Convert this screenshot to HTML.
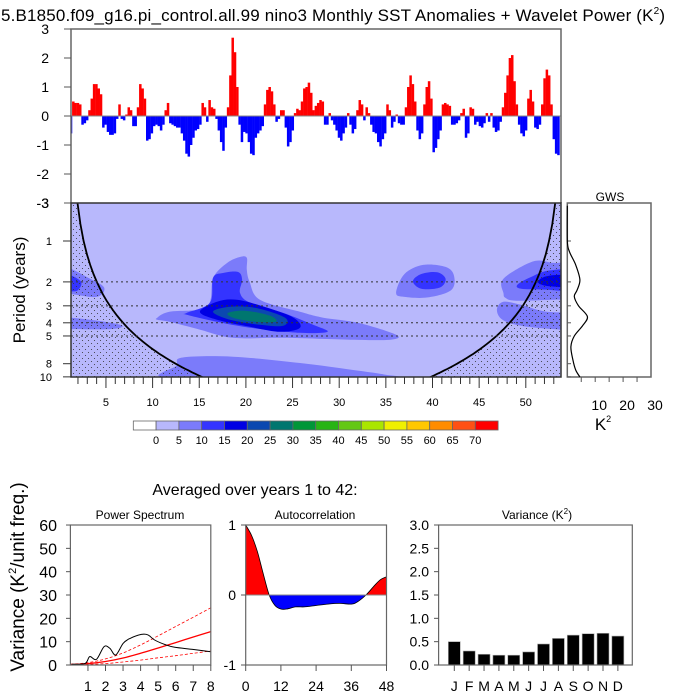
<!DOCTYPE html>
<html><head><meta charset="utf-8">
<style>
html,body{margin:0;padding:0;background:#fff;}
svg{display:block;font-family:"Liberation Sans",sans-serif;}
</style></head>
<body>
<svg id="c" width="700" height="700" viewBox="0 0 700 700" xmlns="http://www.w3.org/2000/svg">
<defs>
<pattern id="stip" width="6" height="6" patternUnits="userSpaceOnUse">
<circle cx="1.5" cy="1.5" r="0.55" fill="#333"/>
<circle cx="4.5" cy="4.5" r="0.55" fill="#333"/>
</pattern>
<clipPath id="wclip"><rect x="71" y="203" width="490" height="174"/></clipPath>
<clipPath id="tclip"><rect x="71" y="29" width="490" height="174"/></clipPath>
</defs>
<text x="1" y="21" font-size="17" textLength="664">5.B1850.f09_g16.pi_control.all.99 nino3 Monthly SST Anomalies + Wavelet Power (K<tspan font-size="10" dy="-7">2</tspan><tspan dy="7">)</tspan></text>
</svg>
<script>
// ---------------- DATA ----------------
const tsStart = 1.25, tsStep = 0.2476;
const tsValues = [-0.6,0.5,0.45,0.45,0.4,-0.3,-0.25,-0.15,0.2,0.6,
1.1,1.1,0.95,0.75,-0.4,-0.3,-0.55,-0.65,-0.65,-0.6,
-0.1,0.4,-0.1,-0.15,0.05,0.3,0.2,-0.35,-0.35,0.3,
1.1,0.95,0.6,-0.85,-0.8,-0.6,-0.35,-0.3,-0.35,-0.5,
-0.3,0.2,0.45,-0.25,-0.3,-0.35,-0.4,-0.4,-0.6,-0.85,
-1.3,-1.4,-1.0,-0.75,-0.5,-0.45,-0.3,0.45,0.3,-0.2,
0.55,0.3,0.25,-0.1,-0.5,-0.9,-1.2,-0.4,0.3,1.4,
2.7,2.2,1.0,-0.3,-0.9,-0.55,-0.6,-0.9,-1.3,-1.35,
-0.75,-0.6,-0.5,-0.35,0.4,0.9,1.0,0.85,0.4,-0.2,
-0.1,0.2,0.2,-0.4,-1.05,-0.9,-0.5,0.1,0.25,0.2,
0.5,0.95,1.0,1.15,0.8,0.2,0.35,0.45,0.55,0.5,
-0.3,-0.3,0.1,-0.15,-0.3,-0.5,-0.75,-0.85,-0.6,-0.4,
0.1,-0.3,-0.6,-0.45,0.2,0.55,0.4,-0.15,0.3,0.1,
-0.3,-0.55,-0.6,-0.9,-1.05,-0.8,-0.6,0.4,0.2,-0.4,
-0.2,0.05,-0.25,-0.3,-0.3,0.3,1.0,1.4,1.1,0.5,
-0.5,-0.8,-0.6,0.4,1.0,1.2,0.6,-1.25,-1.1,-0.8,
-0.5,0.4,0.45,0.4,0.35,-0.3,-0.3,-0.25,-0.15,0.1,
0.25,-0.75,-0.6,0.3,0.25,-0.3,-0.2,-0.35,-0.4,-0.25,
0.1,-0.2,0.1,-0.4,-0.55,-0.5,-0.2,0.3,0.8,1.4,
2.0,2.1,1.2,0.4,-0.3,-0.6,-0.7,-0.5,0.6,0.9,
0.5,-0.4,-0.45,-0.3,0.4,1.3,1.6,1.4,0.4,-0.8,
-1.3,-1.35];
const tsTicks = [3,2,1,0,-1,-2,-3];
const yearTicks = [5,10,15,20,25,30,35,40,45,50];
const periodTicks = [1,2,3,4,5,8,10];
const dottedPeriods = [2,3,4,5];
const coiFactor = 0.71, coiStart = 1.2, coiEnd = 53.9;
// contours: [level, [[year,period],...]]
const contourLevels = [5,10,15,20,25];
const contours = [
 [5,[[10.5,3.67],[11.8,3.32],[15.8,3.05],[16.5,1.87],[18.0,1.45],[19.4,1.31],[20.1,1.33],[20.1,1.63],[20.4,2.0],[21.5,2.71],[25.8,3.32],[28.3,3.67],[32.0,4.0],[36.1,4.9],[35.5,5.33],[31.2,5.33],[24.0,5.16],[18.6,5.16],[15.1,4.5],[11.8,3.93],[10.5,3.8]]],
 [10,[[13.66,3.38],[16.14,2.85],[16.47,1.87],[17.55,1.72],[19.16,1.69],[19.59,1.93],[19.37,2.41],[20.45,2.85],[24.0,3.38],[27.2,4.14],[28.75,4.66],[25.8,4.74],[20.45,4.35],[16.9,3.93],[13.66,3.49]]],
 [15,[[15.07,3.32],[16.9,2.8],[19.05,2.71],[22.3,3.1],[25.1,3.67],[25.8,4.35],[23.7,4.66],[20.45,4.28],[16.9,3.8]]],
 [20,[[16.47,3.32],[18.3,3.05],[21.0,3.1],[24.2,3.67],[24.0,4.21],[21.5,4.14],[18.3,3.8]]],
 [25,[[18.09,3.38],[19.92,3.26],[22.6,3.55],[23.2,3.93],[21.0,3.93],[18.62,3.67]]],
 [5,[[12.37,10.5],[12.6,8.2],[13.23,7.2],[18.62,7.1],[25.8,7.9],[31.5,8.9],[34.8,9.6],[36.6,10.5]]],
 [5,[[36.1,2.41],[37.0,1.75],[39.0,1.5],[41.4,1.55],[42.3,1.8],[42.0,2.3],[39.5,2.6],[37.0,2.58]]],
 [10,[[37.9,1.98],[38.8,1.75],[40.5,1.7],[41.4,1.9],[40.8,2.2],[38.8,2.25]]],
 [5,[[0,1.63],[1.15,1.6],[3.0,1.85],[4.8,2.2],[4.0,2.58],[1.15,2.45],[0,2.45]]],
 [10,[[0,1.75],[1.15,1.78],[2.34,2.0],[2.0,2.3],[1.15,2.35],[0,2.3]]],
 [5,[[0,3.73],[1.15,3.67],[4.5,3.9],[6.76,4.2],[5.5,4.45],[1.15,4.45],[0,4.4]]],
 [5,[[47.6,2.41],[47.4,2.0],[48.5,1.7],[51.0,1.4],[53.0,1.45],[56,1.5],[56,2.7],[53.5,2.7],[49.0,2.75],[47.8,2.62]]],
 [10,[[49.1,2.1],[50.5,1.85],[52.5,1.65],[56,1.65],[56,2.3],[52.0,2.28],[49.5,2.25]]],
 [15,[[51.3,2.0],[52.5,1.8],[56,1.8],[56,2.15],[52.5,2.15]]],
 [5,[[46.9,3.2],[47.6,2.8],[49.5,2.95],[52.0,3.3],[56,3.5],[56,4.5],[53,4.45],[49.5,4.2],[47.5,3.8]]]
];
const levelColors = {5:"#7b7bfa",10:"#3434ff",15:"#0000e4",20:"#0b48b0",25:"#00766f"};
const cbLabels = [0,5,10,15,20,25,30,35,40,45,50,55,60,65,70];
const cbColors = ["#ffffff","#b8b8fc","#7b7bfa","#3434ff","#0000e4","#0b48b0","#00766f","#009638","#28b414","#64c814","#aae600","#f0f000","#ffc800","#ff8c00","#ff5014","#ff0000"];
const gwsPeriods = [0.55,1,1.2,1.5,1.93,2.3,2.56,3,3.6,4.2,5,6,7.5,8.9,10.3];
const gwsValues  = [0,0,0.8,3,4.5,3.5,2.5,4,7.2,5.5,2.5,1.3,2,3,4.5];
const gwsTicks = [10,20,30];
// power spectrum
const psFreq = [0.07,0.84,1.1,1.48,1.92,2.25,2.58,3.01,3.4,4.04,4.42,4.8,5.44,5.95,6.97,8];
const psPower = [0.3,0.7,3.6,2.4,7.9,7.1,4.3,9.3,11.4,13.1,12.9,10.7,8.6,7.6,6.7,5.7];
const rnFreq = [0,1,2,3,4,5,6,7,8];
const rnMid = [0.2,0.6,1.5,3,5,7.3,9.6,12,14.3];
const rnUpper = [0.3,1,2.6,5.2,8.6,12.5,16.5,20.5,24.5];
const rnLower = [0.1,0.25,0.6,1.3,2.1,3.1,4,5,6];
const psYTicks = [0,10,20,30,40,50,60];
const psXTicks = [1,2,3,4,5,6,7,8];
// autocorrelation
const acLags = [0,2,4,6,8,10,12,14,17,20,24,28,32,36,38,41,44,46,48];
const acVals = [1,0.85,0.62,0.3,0,-0.15,-0.2,-0.2,-0.17,-0.17,-0.15,-0.13,-0.12,-0.13,-0.1,0,0.14,0.22,0.26];
const acXTicks = [0,12,24,36,48];
const acYTicks = [1,0,-1];
// monthly variance
const months = ["J","F","M","A","M","J","J","A","S","O","N","D"];
const monthVar = [0.5,0.3,0.23,0.21,0.21,0.28,0.45,0.57,0.64,0.67,0.68,0.62];
const varTicks = ["0.0","0.5","1.0","1.5","2.0","2.5","3.0"];

// ---------------- DRAW ----------------
const NS="http://www.w3.org/2000/svg", svg=document.getElementById('c');
function mk(tag,attrs,parent){const e=document.createElementNS(NS,tag);for(const k in attrs)e.setAttribute(k,attrs[k]);(parent||svg).appendChild(e);return e;}
function txt(s,x,y,size,anchor,parent){const t=mk('text',{x:x,y:y,'font-size':size,'text-anchor':anchor||'middle'},parent);t.textContent=s;return t;}
// axes
const xYear=t=>59.3+9.33*t;
const yTs=v=>116-v*29;
const yPer=p=>241+40.9*Math.log2(p);
function closedCR(pts){let d='';const n=pts.length;for(let i=0;i<n;i++){const p0=pts[(i-1+n)%n],p1=pts[i],p2=pts[(i+1)%n],p3=pts[(i+2)%n];if(i===0)d+='M'+p1[0]+','+p1[1];const c1=[p1[0]+(p2[0]-p0[0])/6,p1[1]+(p2[1]-p0[1])/6],c2=[p2[0]-(p3[0]-p1[0])/6,p2[1]-(p3[1]-p1[1])/6];d+='C'+c1.join(',')+' '+c2.join(',')+' '+p2.join(',');}return d+'Z';}
function openCR(pts){let d='M'+pts[0].join(',');const n=pts.length;for(let i=0;i<n-1;i++){const p0=pts[Math.max(i-1,0)],p1=pts[i],p2=pts[i+1],p3=pts[Math.min(i+2,n-1)];const c1=[p1[0]+(p2[0]-p0[0])/6,p1[1]+(p2[1]-p0[1])/6],c2=[p2[0]-(p3[0]-p1[0])/6,p2[1]-(p3[1]-p1[1])/6];d+='C'+c1.join(',')+' '+c2.join(',')+' '+p2.join(',');}return d;}

// ---- time series ----
const tsG=mk('g',{'clip-path':'url(#tclip)'});


tsValues.forEach((v,i)=>{const t=tsStart+tsStep*i;const x=xYear(t)-1.2;const y0=yTs(0),y1=yTs(v);
 const r=mk('rect',{x:x.toFixed(2),y:Math.min(y0,y1).toFixed(2),width:2.5,height:Math.abs(y1-y0).toFixed(2),fill:v>=0?'#ff0000':'#0000ff'},tsG);
 
 });
const zl=mk('line',{x1:71,x2:561,y1:yTs(0),y2:yTs(0),stroke:'#888','stroke-width':1});


const tsF=mk('path',{d:'M71,203V29H561V203',fill:'none',stroke:'#666','stroke-width':1.5});


tsTicks.forEach(v=>{mk('line',{x1:64,x2:71,y1:yTs(v),y2:yTs(v),stroke:'#555','stroke-width':1});
 const t=txt(String(v),49,yTs(v)+5,14,'end');
 
 });

// ---- wavelet ----
const wG=mk('g',{'clip-path':'url(#wclip)'});


mk('rect',{x:71,y:203,width:490,height:174,fill:'#b8b8fc'},wG);
contourLevels.forEach(lv=>{contours.filter(c=>c[0]===lv).forEach(c=>{
 const pts=c[1].map(p=>[+xYear(p[0]).toFixed(1),+yPer(p[1]).toFixed(1)]);
 const pth=mk('path',{d:closedCR(pts),fill:levelColors[lv]},wG);
 
 });});
// COI
const coiL=[],coiR=[];
for(let k=0;k<=40;k++){const p=0.5+k*0.25;const tl=coiStart+p/coiFactor,tr=coiEnd-p/coiFactor;coiL.push([+xYear(tl).toFixed(1),+yPer(p).toFixed(1)]);coiR.push([+xYear(tr).toFixed(1),+yPer(p).toFixed(1)]);}
const stL=mk('path',{d:'M71,200 L'+coiL.map(p=>p.join(',')).join(' L')+' L71,390Z',fill:'url(#stip)'},wG);


const stR=mk('path',{d:'M561,200 L'+coiR.map(p=>p.join(',')).join(' L')+' L561,390Z',fill:'url(#stip)'},wG);


const cl=mk('path',{d:'M'+coiL.map(p=>p.join(',')).join(' L'),fill:'none',stroke:'#000','stroke-width':1.8},wG);


const cr=mk('path',{d:'M'+coiR.map(p=>p.join(',')).join(' L'),fill:'none',stroke:'#000','stroke-width':1.8},wG);


dottedPeriods.forEach(p=>{const l=mk('line',{x1:71,x2:561,y1:yPer(p),y2:yPer(p),stroke:'#333','stroke-width':1,'stroke-dasharray':'2,3'},wG);
 
 });
const wF=mk('rect',{x:71,y:203,width:490,height:174,fill:'none',stroke:'#333','stroke-width':1.5});


const tl3=txt('-3',49,208,14,'end');


periodTicks.forEach(p=>{mk('line',{x1:63,x2:71,y1:yPer(p),y2:yPer(p),stroke:'#333','stroke-width':1});
 const t=txt(String(p),52,yPer(p)+4,11,'end');
 
 });
for(let y=2;y<=53;y++){const x=xYear(y);const maj=y%5===0;mk('line',{x1:x,x2:x,y1:377,y2:maj?388:384,stroke:'#333','stroke-width':1});}
yearTicks.forEach(y=>{const t=txt(String(y),xYear(y),406,11);
 
 });
const pl=txt('Period (years)',0,0,17);pl.setAttribute('transform','translate(25,290) rotate(-90)');



// ---- colorbar ----
const cbG=mk('g',{});


cbColors.forEach((c,i)=>{const r=mk('rect',{x:133.3+i*22.8,y:421,width:22.8,height:9,fill:c,stroke:'#666','stroke-width':0.8},cbG);
 
 });
cbLabels.forEach((v,i)=>{const t=txt(String(v),133.3+(i+1)*22.8,444,11,'middle',cbG);
 
 });

// ---- GWS ----
const gx=v=>567.3+v*2.79;
const gF=mk('rect',{x:567.3,y:203,width:83.7,height:174,fill:'#fff',stroke:'#666','stroke-width':1.5});


for(let v=5;v<30;v+=5)mk('line',{x1:gx(v),x2:gx(v),y1:377,y2:382,stroke:'#555','stroke-width':1});
periodTicks.forEach(p=>mk('line',{x1:567.3,x2:571,y1:yPer(p),y2:yPer(p),stroke:'#555','stroke-width':1}));
const gC=mk('path',{d:openCR(gwsPeriods.map((p,i)=>[+gx(gwsValues[i]).toFixed(1),+Math.min(yPer(p),377).toFixed(1)])),fill:'none',stroke:'#000','stroke-width':1.2});


gwsTicks.forEach(v=>{const t=txt(String(v),gx(v)+4,410,14);
 
 });
const gt=txt('GWS',610,201,12);


const gk=txt('',603,430,17);gk.innerHTML='K<tspan font-size="9" dy="-8">2</tspan>';



// ---- bottom title ----
const bt=txt('Averaged over years 1 to 42:',255,495,16);



// ---- power spectrum ----
const px=f=>70.4+f*17.55, py=v=>665-v*2.333;
const psG=mk('g',{});


const rl=(arr,dash,w,nm)=>{const p=mk('path',{d:openCR(rnFreq.map((f,i)=>[+px(f).toFixed(1),+py(arr[i]).toFixed(1)])),fill:'none',stroke:'#ff0000','stroke-width':w,'stroke-dasharray':dash},psG);
 
 };
rl(rnUpper,'3,2',0.8,'red-noise-upper');
rl(rnLower,'3,2',0.8,'red-noise-lower');
rl(rnMid,'none',1.3,'red-noise-spectrum');
const psL=mk('path',{d:openCR(psFreq.map((f,i)=>[+px(f).toFixed(1),+py(psPower[i]).toFixed(1)])),fill:'none',stroke:'#000','stroke-width':1},psG);


mk('rect',{x:70.4,y:525,width:140.4,height:140,fill:'none',stroke:'#666','stroke-width':1.2},psG);
psYTicks.forEach(v=>{mk('line',{x1:70.4,x2:66,y1:py(v),y2:py(v),stroke:'#555'},psG);
 const t=txt(String(v),57,py(v)+6,16,'end',psG);
 
 });
psXTicks.forEach(v=>{mk('line',{x1:px(v),x2:px(v),y1:665,y2:671,stroke:'#555'},psG);
 const t=txt(String(v),px(v),691,14,'middle',psG);
 
 });
const pst=txt('Power Spectrum',140,519,12);


const vy=txt('',0,0,19);vy.innerHTML='Variance (K<tspan font-size="11" dy="-8">2</tspan><tspan dy="8">/unit freq.)</tspan>';
vy.setAttribute('transform','translate(24,577) rotate(-90)');



// ---- autocorrelation ----
const ax=l=>245.7+l*(140.8/48), ay=v=>595-v*70;
const acG=mk('g',{});


const acPts=acLags.map((l,i)=>[+ax(l).toFixed(1),+ay(acVals[i]).toFixed(1)]);
const acD=openCR(acPts);
mk('clipPath',{id:'acPos'},acG).appendChild(Object.assign(document.createElementNS(NS,'rect'),{}));
document.querySelector('#acPos rect').setAttribute('x',245);document.querySelector('#acPos rect').setAttribute('y',520);document.querySelector('#acPos rect').setAttribute('width',141);document.querySelector('#acPos rect').setAttribute('height',75);
mk('clipPath',{id:'acNeg'},acG).appendChild(document.createElementNS(NS,'rect'));
document.querySelector('#acNeg rect').setAttribute('x',245);document.querySelector('#acNeg rect').setAttribute('y',595);document.querySelector('#acNeg rect').setAttribute('width',141);document.querySelector('#acNeg rect').setAttribute('height',75);
const fillD=acD+'L'+ax(48)+','+ay(0)+'L'+ax(0)+','+ay(0)+'Z';
const acP=mk('path',{d:fillD,fill:'#ff0000','clip-path':'url(#acPos)'},acG);


const acN=mk('path',{d:fillD,fill:'#0000ff','clip-path':'url(#acNeg)'},acG);


mk('path',{d:acD,fill:'none',stroke:'#000','stroke-width':0.8},acG);
mk('line',{x1:245.7,x2:386.5,y1:ay(0),y2:ay(0),stroke:'#888','stroke-width':1},acG);
mk('rect',{x:245.7,y:525,width:140.8,height:140,fill:'none',stroke:'#666','stroke-width':1.2},acG);
acYTicks.forEach(v=>{mk('line',{x1:245.7,x2:241,y1:ay(v),y2:ay(v),stroke:'#555'},acG);
 const t=txt(String(v),236,ay(v)+5,14,'end',acG);
 
 });
acXTicks.forEach(v=>{mk('line',{x1:ax(v),x2:ax(v),y1:665,y2:671,stroke:'#555'},acG);
 const t=txt(String(v),ax(v),691,14,'middle',acG);
 
 });
const act=txt('Autocorrelation',315,519,12);



// ---- variance bars ----
const bx=i=>454.3+i*14.87, by=v=>665-v*46.67;
const vG=mk('g',{});


monthVar.forEach((v,i)=>{const r=mk('rect',{x:bx(i)-6,y:by(v),width:12,height:665-by(v),fill:'#000',stroke:'#aaa','stroke-width':0.6},vG);
 
 
 mk('line',{x1:bx(i),x2:bx(i),y1:665,y2:671,stroke:'#555'},vG);
 const t=txt(months[i],bx(i),691,14,'middle',vG);
 
 });
mk('rect',{x:438.6,y:525,width:193.7,height:140,fill:'none',stroke:'#666','stroke-width':1.2},vG);
varTicks.forEach(s=>{const v=parseFloat(s);mk('line',{x1:438.6,x2:434,y1:by(v),y2:by(v),stroke:'#555'},vG);
 const t=txt(s,429,by(v)+5,14,'end',vG);
 
 });
const vt=txt('',537,519,12);vt.innerHTML='Variance (K<tspan font-size="8" dy="-5">2</tspan><tspan dy="5">)</tspan>';


</script>
</body></html>
